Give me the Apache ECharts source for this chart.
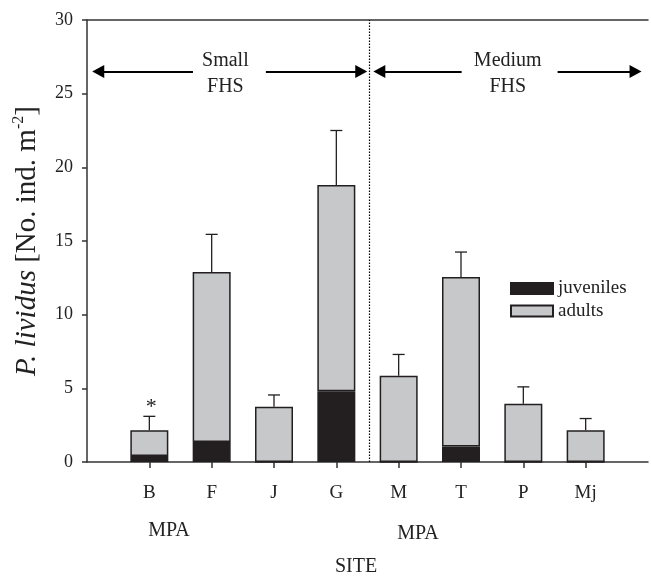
<!DOCTYPE html>
<html>
<head>
<meta charset="utf-8">
<script src="https://cdn.jsdelivr.net/npm/echarts@6/dist/echarts.min.js"></script>
<style>
  html, body { margin: 0; padding: 0; background: #ffffff; }
  #chart { width: 651px; height: 578px; }
</style>
</head>
<body>
<div id="chart"></div>
<script>
// Sea urchin density per site, split into juveniles and adults, with standard error
const sites = ['B', 'F', 'J', 'G', 'M', 'T', 'P', 'Mj'];
const juveniles = [0.4, 1.35, 0, 4.8, 0, 1.05, 0, 0];
const adults = [1.75, 11.55, 3.75, 14.0, 5.85, 11.5, 3.95, 2.15];
const stdErr = [0.95, 2.55, 0.8, 3.7, 1.45, 1.7, 1.15, 0.8];

const FONT = '"Liberation Serif", "Times New Roman", serif';
const INK = '#231f20';
const TEXT = '#222222';

// One empty slot on each side so the sites sit one step in from the frame
const axisCats = [''].concat(sites, ['']);
const pad = arr => ['-'].concat(arr, ['-']);

const errData = sites.map((s, i) => {
  const total = juveniles[i] + adults[i];
  return [i + 1, total, total + stdErr[i]];
});

const chart = echarts.init(document.getElementById('chart'), null, { renderer: 'canvas' });

const axisLineStyle = { color: '#333333', width: 1.5 };

chart.setOption({
  animation: false,
  backgroundColor: '#ffffff',
  grid: { left: 87, right: -6, top: 20, bottom: 116 },
  legend: {
    data: ['juveniles', 'adults'],
    orient: 'vertical',
    left: 510,
    top: 279,
    padding: 0,
    icon: 'rect',
    itemWidth: 42,
    itemHeight: 11,
    itemGap: 3.5,
    selectedMode: false,
    textStyle: { fontFamily: FONT, fontSize: 19, color: TEXT, lineHeight: 16 }
  },
  xAxis: [
    {
      type: 'category',
      data: axisCats,
      boundaryGap: false,
      position: 'bottom',
      axisLine: { show: true, onZero: false, lineStyle: axisLineStyle },
      axisTick: {
        show: true,
        length: 6,
        interval: (idx, val) => val !== '',
        lineStyle: axisLineStyle
      },
      axisLabel: { interval: 0, margin: 22, fontFamily: FONT, fontSize: 19, color: TEXT },
      splitLine: { show: false }
    },
    {
      // companion linear axis for annotations, also draws the top frame line
      type: 'value',
      min: -1,
      max: 8,
      position: 'top',
      axisLine: { show: true, onZero: false, lineStyle: axisLineStyle },
      axisTick: { show: false },
      axisLabel: { show: false },
      splitLine: { show: false }
    }
  ],
  yAxis: {
    type: 'value',
    min: 0,
    max: 30,
    interval: 5,
    position: 'left',
    axisLine: { show: true, onZero: false, lineStyle: axisLineStyle },
    axisTick: { show: true, length: 5, lineStyle: axisLineStyle },
    axisLabel: { margin: 14, fontFamily: FONT, fontSize: 18, color: TEXT },
    splitLine: { show: false },
    name: '{i|P. lividus} [No. ind. m{s|-2}]',
    nameLocation: 'middle',
    nameRotate: 90,
    nameGap: 44,
    nameTextStyle: {
      fontFamily: FONT,
      fontSize: 29,
      color: TEXT,
      lineHeight: 32,
      rich: {
        i: { fontFamily: FONT, fontSize: 29, fontStyle: 'italic', color: TEXT, lineHeight: 32 },
        s: { fontFamily: FONT, fontSize: 16, color: TEXT, verticalAlign: 'top', lineHeight: 16 }
      }
    }
  },
  series: [
    {
      name: 'juveniles',
      type: 'bar',
      stack: 'density',
      data: pad(juveniles),
      barWidth: 38,
      itemStyle: { color: INK, borderColor: INK, borderWidth: 1.5 }
    },
    {
      name: 'adults',
      type: 'bar',
      stack: 'density',
      data: pad(adults),
      barWidth: 38,
      itemStyle: { color: '#c7c8ca', borderColor: INK, borderWidth: 1.5 }
    },
    {
      name: 'se',
      type: 'custom',
      data: errData,
      encode: { x: 0, y: [1, 2] },
      z: 5,
      silent: true,
      renderItem: function (params, api) {
        const x = api.value(0);
        const base = api.coord([x, api.value(1)]);
        const top = api.coord([x, api.value(2)]);
        const st = { stroke: INK, lineWidth: 1.3 };
        return {
          type: 'group',
          children: [
            { type: 'line', shape: { x1: base[0], y1: base[1], x2: top[0], y2: top[1] }, style: st },
            { type: 'line', shape: { x1: top[0] - 6, y1: top[1], x2: top[0] + 6, y2: top[1] }, style: st }
          ]
        };
      }
    },
    {
      // dotted divider between the two habitat groups
      name: 'divider',
      type: 'line',
      xAxisIndex: 1,
      data: [],
      silent: true,
      markLine: {
        silent: true,
        symbol: ['none', 'none'],
        label: { show: false },
        lineStyle: { color: '#000000', width: 1.2, type: [1.5, 1.5] },
        emphasis: { disabled: true },
        data: [[{ coord: [3.53, 0] }, { coord: [3.53, 30] }]]
      }
    },
    {
      // group extent arrows and their captions
      name: 'groups',
      type: 'line',
      xAxisIndex: 1,
      data: [],
      silent: true,
      markLine: {
        silent: true,
        symbol: ['none', 'triangle'],
        symbolSize: [13, 12],
        label: { show: false },
        lineStyle: { color: '#000000', width: 2, type: 'solid' },
        emphasis: { disabled: true },
        data: [
          [{ coord: [0.70, 26.5] }, { coord: [-0.82, 26.5] }],
          [{ coord: [1.87, 26.5] }, { coord: [3.40, 26.5] }],
          [{ coord: [5.01, 26.5] }, { coord: [3.69, 26.5] }],
          [{ coord: [6.55, 26.5] }, { coord: [7.80, 26.5] }]
        ]
      },
      markPoint: {
        silent: true,
        symbol: 'rect',
        symbolSize: 0,
        label: {
          show: true,
          position: 'inside',
          formatter: p => p.name,
          fontFamily: FONT,
          fontSize: 20,
          lineHeight: 26.6,
          color: TEXT,
          offset: [0, 2]
        },
        data: [
          { name: 'Small\nFHS', coord: [1.22, 26.5] },
          { name: 'Medium\nFHS', coord: [5.75, 26.5] },
          { name: '*', coord: [0.03, 3.75], label: { fontSize: 22, lineHeight: 22, offset: [0, 0] } }
        ]
      }
    }
  ],
  graphic: [
    { type: 'text', x: 169, y: 531, style: { text: 'MPA', fontFamily: FONT, fontSize: 20, fill: TEXT, align: 'center', verticalAlign: 'middle' } },
    { type: 'text', x: 418, y: 534, style: { text: 'MPA', fontFamily: FONT, fontSize: 20, fill: TEXT, align: 'center', verticalAlign: 'middle' } },
    { type: 'text', x: 356, y: 567, style: { text: 'SITE', fontFamily: FONT, fontSize: 20, fill: TEXT, align: 'center', verticalAlign: 'middle' } }
  ]
});
</script>
</body>
</html>
